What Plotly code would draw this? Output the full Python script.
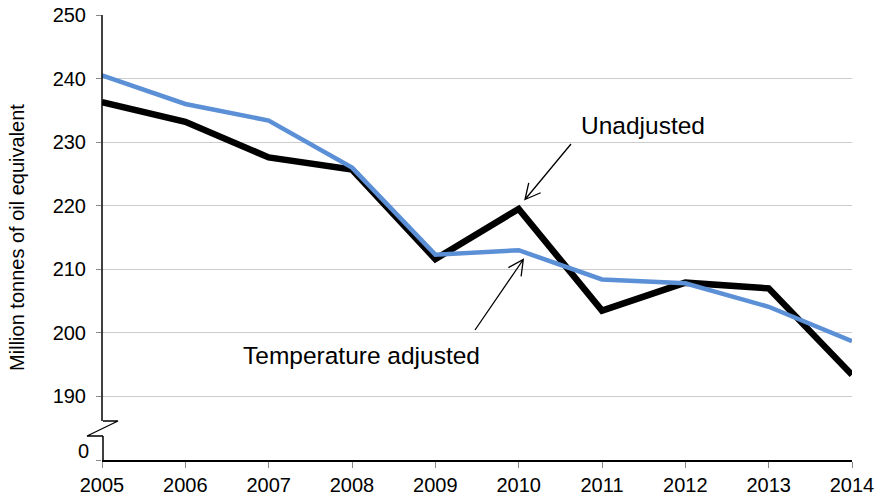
import math
import plotly.graph_objects as go

years = [2005, 2006, 2007, 2008, 2009, 2010, 2011, 2012, 2013, 2014]
unadjusted = [236.3, 233.2, 227.6, 225.7, 211.6, 219.5, 203.5, 207.9, 207.0, 193.4]
temp_adjusted = [240.5, 236.0, 233.4, 226.0, 212.3, 213.0, 208.4, 207.8, 204.1, 198.7]

ytick_vals = [180, 190, 200, 210, 220, 230, 240, 250]
ytick_text = ["", "190", "200", "210", "220", "230", "240", "250"]

FONT = "Liberation Sans, Arial, sans-serif"

fig = go.Figure()
fig.add_trace(go.Scatter(x=years, y=unadjusted, mode="lines", name="Unadjusted",
                         line=dict(color="#000000", width=6.5), cliponaxis=False))
fig.add_trace(go.Scatter(x=years, y=temp_adjusted, mode="lines", name="Temperature adjusted",
                         line=dict(color="#5B8FD6", width=4.5), cliponaxis=False))

fig.update_layout(
    width=876, height=496,
    margin=dict(l=102, r=24, t=15, b=36),
    paper_bgcolor="white", plot_bgcolor="white",
    showlegend=False,
    font=dict(family=FONT, size=20, color="#000000"),
    xaxis=dict(range=[2005, 2014], tickvals=years, ticks="outside", ticklen=6,
               tickcolor="#888888", showgrid=False, showline=True, linecolor="#000000",
               linewidth=1.5, zeroline=False, tickfont=dict(size=20), automargin=False),
    yaxis=dict(range=[180, 250], tickvals=ytick_vals, ticktext=ytick_text,
               ticks="outside", ticklen=5, tickcolor="#888888", ticklabelstandoff=6,
               showgrid=True, gridcolor="#cccccc", gridwidth=1,
               showline=False, zeroline=False, tickfont=dict(size=20), automargin=False,
               title=dict(text="Million tonnes of oil equivalent", font=dict(size=20), standoff=22)),
)

# pixel <-> data helpers
px = 70 / 445.0  # data units per pixel (y)
def yv(pix):
    return 250 - (pix - 15) * px
def xp(pix):
    return (pix - 102) / 750.0
def xd(pix):
    return 2005 + (pix - 102) / (750 / 9.0)

# y-axis line with break symbol
fig.add_shape(type="line", xref="paper", yref="y", x0=0, x1=0, y0=250, y1=yv(421),
              line=dict(color="#000000", width=1.5))
fig.add_shape(type="path", xref="paper", yref="paper",
              path="M {a},{b} L {c},{b} L {d},{e} L {a},{e}".format(
                  a=xp(103), b=(460 - 421) / 445.0, c=xp(118), d=xp(87), e=(460 - 436) / 445.0),
              line=dict(color="#000000", width=1.3))
fig.add_shape(type="line", xref="paper", yref="paper", x0=xp(103), x1=xp(103),
              y0=(460 - 436) / 445.0, y1=0, line=dict(color="#000000", width=1.5))

# "0" label
fig.add_annotation(x=xp(91), y=yv(451), xref="paper", yref="y", text="0", showarrow=False,
                   xanchor="right", yanchor="middle", font=dict(size=20))

# arrows (shaft + open V head)
def arrow(tail, tip, length=17, half=27):
    dx, dy = tail[0] - tip[0], tail[1] - tip[1]
    ang = math.atan2(dy, dx)
    pts = []
    for s in (-1, 1):
        a = ang + s * math.radians(half)
        pts.append((tip[0] + length * math.cos(a), tip[1] + length * math.sin(a)))
    path = "M {},{} L {},{} M {},{} L {},{} L {},{}".format(
        xd(tail[0]), yv(tail[1]), xd(tip[0]), yv(tip[1]),
        xd(pts[0][0]), yv(pts[0][1]), xd(tip[0]), yv(tip[1]), xd(pts[1][0]), yv(pts[1][1]))
    fig.add_shape(type="path", xref="x", yref="y", path=path,
                  line=dict(color="#000000", width=1.3))

arrow((571, 144), (525, 199.5))
arrow((475, 330), (523.3, 259.5))

fig.add_annotation(x=xd(643), y=yv(125), xref="x", yref="y", text="Unadjusted", showarrow=False,
                   font=dict(size=24.5), xanchor="center", yanchor="middle")
fig.add_annotation(x=xd(361.5), y=yv(355), xref="x", yref="y", text="Temperature adjusted",
                   showarrow=False, font=dict(size=24.5), xanchor="center", yanchor="middle")

fig.write_html("out.html", config={"displayModeBar": False},
               post_script="document.body.style.margin='0';document.body.style.overflow='hidden';")
